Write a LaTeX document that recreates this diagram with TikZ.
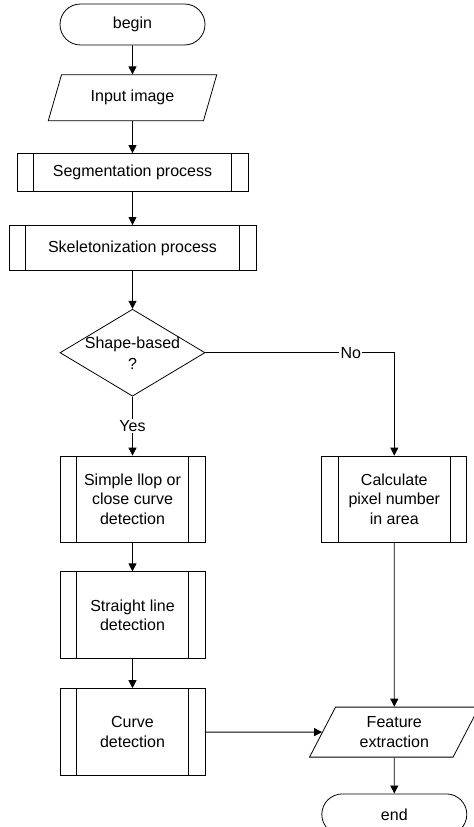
\documentclass[tikz,border=0pt]{standalone}
\usepackage{fontspec}
\setmainfont{Liberation Sans}
\usetikzlibrary{positioning, shapes.geometric, arrows.meta}
\begin{document}
\begin{tikzpicture}[
  every node/.style={line width=0.6pt, font=\fontsize{12}{14.6}\selectfont, align=center, inner sep=0pt},
  flow/.style={-{Triangle[length=6pt, width=6pt]}, line width=0.6pt}
]
\tikzset{
  terminal/.style={draw, rectangle, rounded corners=15.375pt, minimum width=108.75pt, minimum height=30.75pt},
  io/.style={draw, trapezium, trapezium stretches=true},
  subproc/.style={draw, rectangle, minimum width=#1,
    path picture={\draw[line width=0.6pt]
      ([xshift=12.5pt]path picture bounding box.north west) -- ([xshift=12.5pt]path picture bounding box.south west)
      ([xshift=-12.5pt]path picture bounding box.north east) -- ([xshift=-12.5pt]path picture bounding box.south east);}},
  subproc/.default=108.75pt,
  decision/.style={draw, diamond, minimum width=108.75pt, minimum height=65.25pt},
  lbl/.style={fill=white, inner sep=1pt}
}
\useasboundingbox (0,0) rectangle (355.5pt,-620.25pt);
\node[terminal] (begin) at (99.375pt,-18.375pt) {begin};
\node[io, trapezium left angle=62.4, trapezium right angle=117.6, minimum width=126.75pt, minimum height=34.5pt, below=21.75pt of begin] (input) {Input image};
\node[subproc=173.25pt, minimum height=28.5pt, below=24pt of input] (segment) {Segmentation process};
\node[subproc=185.25pt, minimum height=33.75pt, below=24.75pt of segment] (skeleton) {Skeletonization process};
\node[decision, below=28.5pt of skeleton, label={[font=\fontsize{12}{15.75}\selectfont, align=center]center:Shape-based\\?}] (shape) {};
\node[subproc, minimum height=64.5pt, below=44.25pt of shape] (loop) {Simple llop or\\close curve\\detection};
\node[subproc, minimum height=64.5pt, right=87pt of loop] (pixel) {Calculate\\pixel number\\in area};
\node[subproc, minimum height=65.25pt, below=21.75pt of loop] (line) {Straight line\\detection};
\node[subproc, minimum height=65.25pt, below=21.75pt of line] (curve) {Curve\\detection};
\node[io, trapezium left angle=63.4, trapezium right angle=116.6, minimum width=127.5pt, minimum height=37.5pt] (feature) at (pixel |- curve) {Feature\\extraction};
\node[terminal, below=27pt of feature] (end) {end};

\draw[flow] (begin) -- (input);
\draw[flow] (input) -- (segment);
\draw[flow] (segment) -- (skeleton);
\draw[flow] (skeleton) -- (shape);
\draw[flow] (shape) -- node[lbl] {Yes} (loop);
\draw[flow] (shape.east) -| node[lbl, pos=0.385] {No} (pixel);
\draw[flow] (loop) -- (line);
\draw[flow] (line) -- (curve);
\draw[flow] (curve) -- (feature);
\draw[flow] (pixel) -- (feature);
\draw[flow] (feature) -- (end);
\end{tikzpicture}
\end{document}
